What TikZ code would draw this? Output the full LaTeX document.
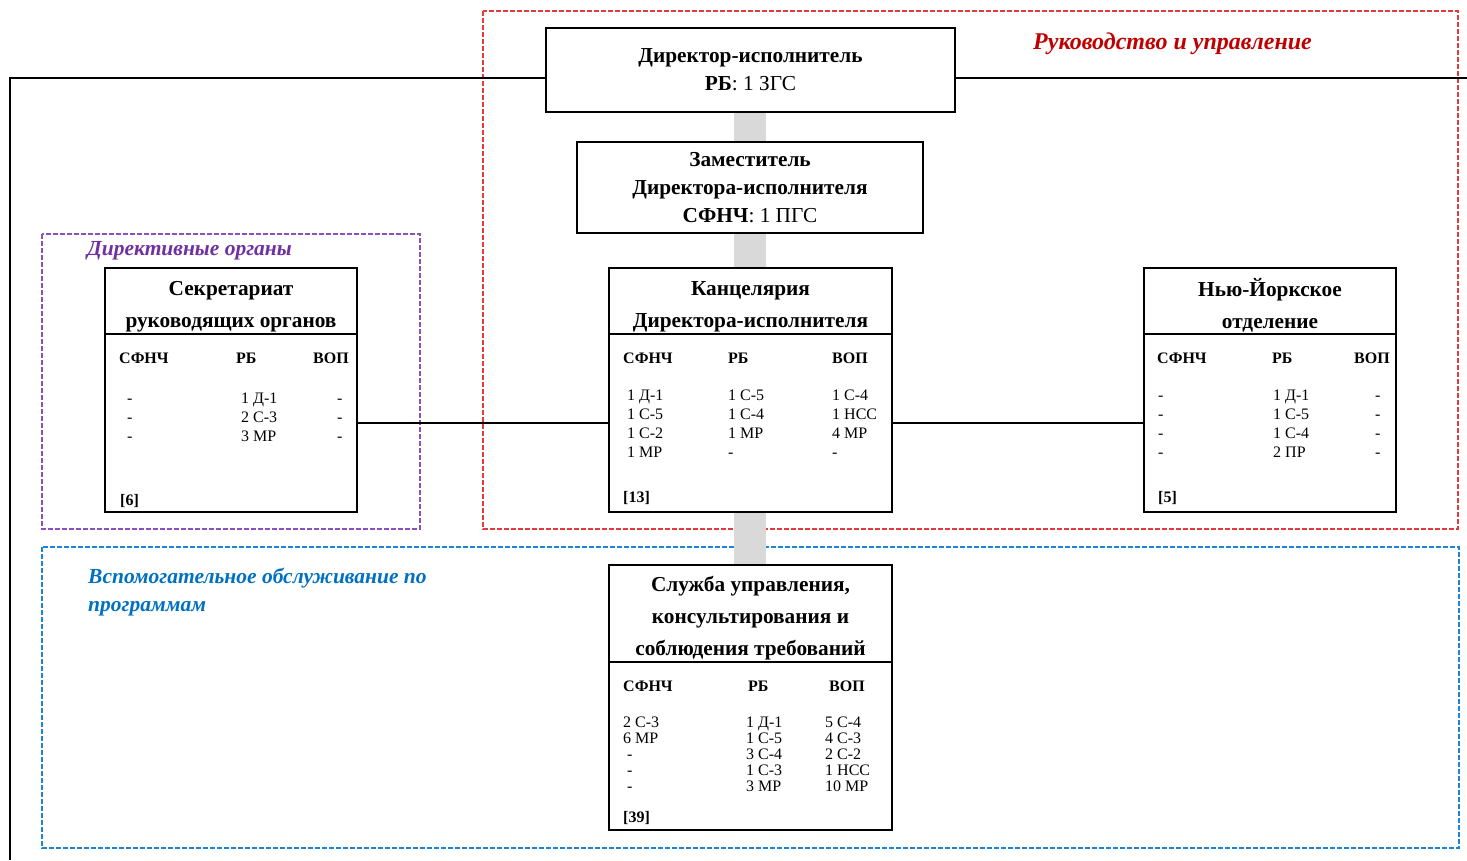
\documentclass[tikz,border=0pt]{standalone}
\usepackage{fontspec}
\setmainfont{Liberation Serif}
\definecolor{redlab}{HTML}{C00000}
\definecolor{reddash}{HTML}{E03C3C}
\definecolor{purplab}{HTML}{7030A0}
\definecolor{purdash}{HTML}{8A50C0}
\definecolor{bluelab}{HTML}{0070C0}
\definecolor{bluedash}{HTML}{1E84D6}
\definecolor{barcol}{HTML}{D9D9D9}
\newcommand\ph{\vphantom{Д1}}
\begin{document}
\begin{tikzpicture}[x=1pt,y=-1pt,
 box/.style={draw, line width=1.1pt, fill=white, inner sep=0},
 ttl/.style={font=\bfseries\fontsize{21.3}{32}\selectfont, align=center, inner sep=0},
 ttlb/.style={font=\fontsize{21.3}{28}\selectfont, align=center, inner sep=0},
 hdr/.style={font=\bfseries\fontsize{16}{16}\selectfont, inner sep=0, anchor=west},
 dat/.style={font=\fontsize{16}{19}\selectfont, align=left, inner sep=0, anchor=north west},
 datb/.style={font=\fontsize{16}{16}\selectfont, align=left, inner sep=0, anchor=north west},
 idx/.style={font=\bfseries\fontsize{16}{16}\selectfont, inner sep=0, anchor=west},
 grp/.style={font=\bfseries\itshape\fontsize{21.5}{28}\selectfont, inner sep=0, anchor=west, align=left},
 grpbox/.style={line width=1.3pt, dash pattern=on 5pt off 2pt},
 link/.style={line width=1.1pt},
 spine/.style={line width=32pt, barcol},
]
\useasboundingbox (0,0) rectangle (1467,860);
% group frames
\draw[grpbox, reddash] (483,11) rectangle (1458,529);
\draw[grpbox, purdash] (42,234) rectangle (420,529);
\draw[grpbox, bluedash] (42,547) rectangle (1459,848);
\node[grp, text=redlab, font=\bfseries\itshape\fontsize{24}{28}\selectfont] (gred) at (1033,44) {Руководство и управление};
\node[grp, text=purplab] (gpur) at (87,251) {Директивные органы};
\node[grp, text=bluelab] (gblue) at (88,592) {Вспомогательное обслуживание по\\программам};
% grey spine behind boxes
\coordinate (spT) at (750,112);
\coordinate (spB) at (750,565);
\draw[spine] (spT) -- (spB);
% boxes
\node[box, minimum width=409, minimum height=84] (dir) at (750.5,70) {};
\node[box, minimum width=346, minimum height=91] (dep) at (750,187.5) {};
\node[box, minimum width=252, minimum height=244] (sec) at (231,390) {};
\node[box, minimum width=283, minimum height=244] (off) at (750.5,390) {};
\node[box, minimum width=252, minimum height=244] (ny) at (1270,390) {};
\node[box, minimum width=283, minimum height=265] (svc) at (750.5,697.5) {};
\coordinate (lt) at (10,78);
\coordinate (lb) at (10,860);
\coordinate (rt) at (1467,78);
\coordinate (hl) at (0,423);
% connectors
\draw[link] (dir.west |- lt) -- (lt) -- (lb);
\draw[link] (dir.east |- rt) -- (rt);
\draw[link] (sec.east |- hl) -- (off.west |- hl);
\draw[link] (off.east |- hl) -- (ny.west |- hl);
% dividers
\coordinate (dv1) at (0,334);
\coordinate (dv2) at (0,662);
\draw[link] (sec.west |- dv1) -- (sec.east |- dv1);
\draw[link] (off.west |- dv1) -- (off.east |- dv1);
\draw[link] (ny.west |- dv1) -- (ny.east |- dv1);
\draw[link] (svc.west |- dv2) -- (svc.east |- dv2);
% director
\node[ttlb] (dirt) at (750.5,70) {\textbf{Директор-исполнитель}\\\textbf{РБ}: 1 ЗГС};
\node[ttlb] (dept) at (750,188) {\textbf{Заместитель}\\\textbf{Директора-исполнителя}\\\textbf{СФНЧ}: 1 ПГС};
% secretariat
\node[ttl] (sect) at (231,307) {Секретариат\\руководящих органов};
\node[hdr] (sh1) at (119,358) {СФНЧ};
\node[hdr] (sh2) at (236,358) {РБ};
\node[hdr] (sh3) at (313,358) {ВОП};
\node[dat] (sd1) at (127,392.5) {\ph-\\-\\-};
\node[dat] (sd2) at (241,392.5) {1 Д-1\\2 С-3\\3 МР};
\node[dat] (sd3) at (337,392.5) {\ph-\\-\\-};
\node[idx] (si) at (120,501) {[6]};
% office
\node[ttl] (offt) at (750.5,307) {Канцелярия\\Директора-исполнителя};
\node[hdr] (oh1) at (623,358) {СФНЧ};
\node[hdr] (oh2) at (728,358) {РБ};
\node[hdr] (oh3) at (832,358) {ВОП};
\node[dat] (od1) at (627,389.5) {1 Д-1\\1 С-5\\1 С-2\\1 МР};
\node[dat] (od2) at (728,389.5) {1 С-5\\1 С-4\\1 МР\\-};
\node[dat] (od3) at (832,389.5) {1 С-4\\1 НСС\\4 МР\\-};
\node[idx] (oi) at (623,498) {[13]};
% new york
\node[ttl] (nyt) at (1270,305) {Нью-Йоркское\\отделение};
\node[hdr] (nh1) at (1157,358) {СФНЧ};
\node[hdr] (nh2) at (1272,358) {РБ};
\node[hdr] (nh3) at (1354,358) {ВОП};
\node[dat] (nd1) at (1158,389.5) {\ph-\\-\\-\\-};
\node[dat] (nd2) at (1273,389.5) {1 Д-1\\1 С-5\\1 С-4\\2 ПР};
\node[dat] (nd3) at (1375,389.5) {\ph-\\-\\-\\-};
\node[idx] (ni) at (1158,498) {[5]};
% service
\node[ttl] (svct) at (750.5,618) {Служба управления,\\консультирования и\\соблюдения требований};
\node[hdr] (vh1) at (623,686) {СФНЧ};
\node[hdr] (vh2) at (748,686) {РБ};
\node[hdr] (vh3) at (829,686) {ВОП};
\node[datb] (vd1) at (623,716.5) {2 С-3\\6 МР\\\hspace{4pt}-\\\hspace{4pt}-\\\hspace{4pt}-};
\node[datb] (vd2) at (746,716.5) {1 Д-1\\1 С-5\\3 С-4\\1 С-3\\3 МР};
\node[datb] (vd3) at (825,716.5) {5 С-4\\4 С-3\\2 С-2\\1 НСС\\10 МР};
\node[idx] (vi) at (623,818) {[39]};
\end{tikzpicture}
\end{document}
